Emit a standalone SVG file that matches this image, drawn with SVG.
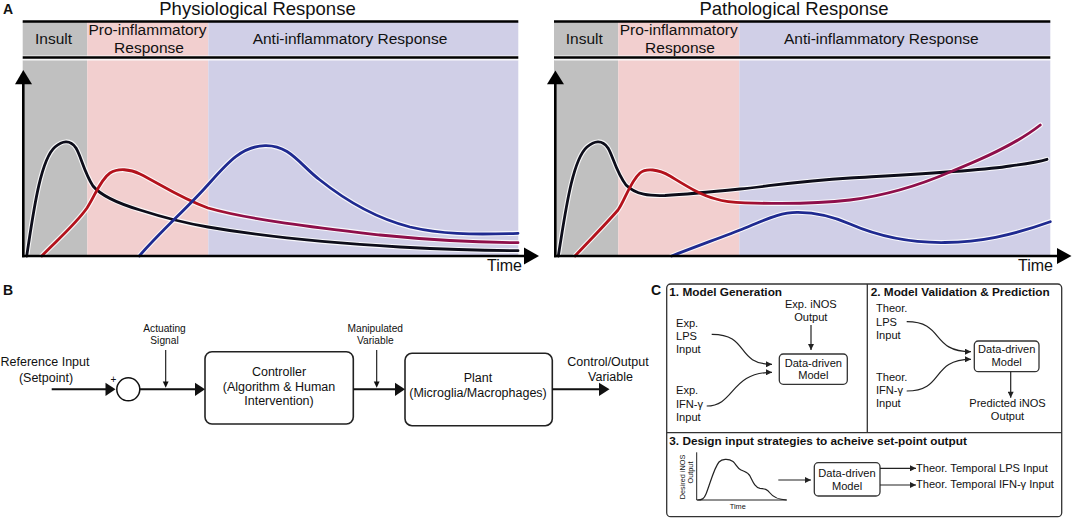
<svg xmlns="http://www.w3.org/2000/svg" width="1074" height="519" viewBox="0 0 1074 519">
<style>
text{font-family:"Liberation Sans",Arial,sans-serif;fill:#111}
.lbl{font-size:14px;font-weight:bold}
.ttl{font-size:18.5px;text-anchor:middle}
.hd{font-size:15.5px;text-anchor:middle}
.tm{font-size:16px;text-anchor:end}
.ax{stroke:#000;stroke-width:2.6;fill:none}
.hl{stroke:#000;stroke-width:2.6;fill:none}
.halo{stroke:#fff;stroke-width:5;fill:none;stroke-opacity:0.85;stroke-linecap:round}
.cv{fill:none;stroke-width:2.8;stroke-linecap:round}
.gr{fill:#c0c0c0}.pk{fill:#f2cfcf}.lv{fill:#d0cfe7}
.b12{font-size:12.5px;text-anchor:middle}
.b10{font-size:10.2px;text-anchor:middle}
.sig{stroke:#111;stroke-width:2;fill:none}
.thin{stroke:#111;stroke-width:1.1;fill:none}
.blk{fill:#111}
.box{fill:#fff;stroke:#222;stroke-width:1.6}
.cbox{fill:#fff;stroke:#333;stroke-width:1.3}
.cb{font-size:11.8px;font-weight:bold}
.c11{font-size:11.1px}
.cm{font-size:11.1px;text-anchor:middle}
.c7{font-size:7.3px;text-anchor:middle}
.ca{stroke:#222;stroke-width:1.2;fill:none}
</style>
<defs>
<marker id="ah" viewBox="0 0 10 10" refX="10" refY="5" markerWidth="7" markerHeight="6" markerUnits="userSpaceOnUse" orient="auto"><path d="M0,0 L10,5 L0,10 z" fill="#222"/></marker>
<marker id="sm" viewBox="0 0 10 10" refX="10" refY="5" markerWidth="6" markerHeight="5" markerUnits="userSpaceOnUse" orient="auto"><path d="M0,0 L10,5 L0,10 z" fill="#111"/></marker>
<linearGradient id="redL" gradientUnits="userSpaceOnUse" x1="200" y1="0" x2="245" y2="0"><stop offset="0" stop-color="#b3121c"/><stop offset="1" stop-color="#8e0f4a"/></linearGradient>
<linearGradient id="redR" gradientUnits="userSpaceOnUse" x1="731" y1="0" x2="776" y2="0"><stop offset="0" stop-color="#b3121c"/><stop offset="1" stop-color="#8e0f4a"/></linearGradient>
<path id="kL" d="M26.7,256 C33,215 40,160 55,147 C62,141 70,139 76,148 C81,156 84,172 93,186 C102,197 120,204 140,210 C165,218 190,224 208,227 C260,236 330,243 400,247 C450,249.5 490,250.5 518,250.7"/>
<path id="rL" d="M41.7,256 C55,242 75,225 87,208 C95,196 100,180 110,173 C118,168 130,169 140,174 C160,184 180,198 208,208 C250,220 320,228 380,235 C440,241 490,242.5 518,242.7"/>
<path id="uL" d="M139.3,256 C160,232 185,210 205,188 C225,166 240,146 265,145.7 C290,145 300,165 320,180 C345,200 375,218 410,227 C440,234 470,235 518,233.3"/>
<path id="kR" d="M558.3,256 C565,215 572,160 587,147 C594,141 602,139 608,148 C613,156 616,172 626,185 C636,195 650,196 665,195.5 C690,194 720,191 740,189 C770,186 800,181 850,178 C920,174 980,171 1010,166 C1025,164 1038,162 1047,159.3"/>
<path id="rR" d="M575,256 C590,240 605,225 618,210 C625,200 630,182 640,173 C646,168 658,169 670,176 C685,185 700,195 716,199 C725,202 733,202.5 745,202.8 C780,204 820,203.5 850,200 C890,195 920,185 950,172 C980,160 1015,145 1040.3,125"/>
<path id="uR" d="M671.7,256 C700,245 725,236 745,228 C765,220 780,212 798,212.3 C815,212.5 830,215 850,224 C880,237 910,243 945,242.5 C980,242 1010,236 1050.3,221.7"/>
</defs>
<rect width="1074" height="519" fill="#fff"/>

<g id="panelA-left">
<text class="lbl" x="3" y="14">A</text>
<text class="ttl" x="257.5" y="15">Physiological Response</text>
<rect class="gr" x="22.7" y="21.5" width="64.6" height="234.5"/>
<rect class="pk" x="87.3" y="21.5" width="121" height="234.5"/>
<rect class="lv" x="208.3" y="21.5" width="310" height="234.5"/>
<line class="halo" x1="23" y1="58" x2="518" y2="58" stroke-width="6"/>
<line class="hl" x1="22.7" y1="21.5" x2="518.3" y2="21.5"/>
<line class="hl" x1="22.7" y1="57.5" x2="518.3" y2="57.5"/>
<text class="hd" x="53.5" y="44">Insult</text>
<text class="hd" x="147.5" y="35">Pro-inflammatory</text>
<text class="hd" x="149" y="52.5">Response</text>
<text class="hd" x="350" y="44">Anti-inflammatory Response</text>
<use href="#kL" class="halo"/><use href="#rL" class="halo"/><use href="#uL" class="halo"/>
<use href="#kL" class="cv" stroke="#0d0d1a"/>
<use href="#rL" class="cv" stroke="url(#redL)"/>
<use href="#uL" class="cv" stroke="#1f2a90"/>
<line class="ax" x1="23.3" y1="82" x2="23.3" y2="257.3"/>
<polygon points="15,84.3 23.3,70 32,84.3" fill="#000"/>
<line class="ax" x1="22" y1="256" x2="526" y2="256"/>
<polygon points="524,247.5 539,256 524,264.5" fill="#000"/>
<text class="tm" x="522" y="271">Time</text>
</g>

<g id="panelA-right">
<text class="ttl" x="794" y="15">Pathological Response</text>
<rect class="gr" x="554" y="21.5" width="64.3" height="234.5"/>
<rect class="pk" x="618.3" y="21.5" width="121" height="234.5"/>
<rect class="lv" x="739.3" y="21.5" width="311" height="234.5"/>
<line class="halo" x1="555" y1="58" x2="1050" y2="58" stroke-width="6"/>
<line class="hl" x1="554" y1="21.5" x2="1050.3" y2="21.5"/>
<line class="hl" x1="554" y1="57.5" x2="1050.3" y2="57.5"/>
<text class="hd" x="584.3" y="44">Insult</text>
<text class="hd" x="678.7" y="35">Pro-inflammatory</text>
<text class="hd" x="680" y="52.5">Response</text>
<text class="hd" x="881.3" y="44">Anti-inflammatory Response</text>
<use href="#kR" class="halo"/><use href="#rR" class="halo"/><use href="#uR" class="halo"/>
<use href="#kR" class="cv" stroke="#0d0d1a"/>
<use href="#rR" class="cv" stroke="url(#redR)"/>
<use href="#uR" class="cv" stroke="#1f2a90"/>
<line class="ax" x1="555.3" y1="82" x2="555.3" y2="257.3"/>
<polygon points="547,84.3 555.4,70.5 564,84.3" fill="#000"/>
<line class="ax" x1="554" y1="256" x2="1058" y2="256"/>
<polygon points="1057,248 1071.5,256 1057,264" fill="#000"/>
<text class="tm" x="1053" y="271">Time</text>
</g>

<g id="panelB">
<text class="lbl" x="3" y="295">B</text>
<g id="ref-input"><text class="b12" x="45" y="365.7">Reference Input</text><text class="b12" x="46" y="381.5">(Setpoint)</text></g>
<g id="summing"><circle cx="128.3" cy="389.3" r="11.5" fill="#fff" stroke="#111" stroke-width="1.5"/><text x="113.3" y="383" style="font-size:10px;text-anchor:middle">+</text></g>
<g id="actuating-label"><text class="b10" x="164.5" y="332.3">Actuating</text><text class="b10" x="164.5" y="344.3">Signal</text></g>
<g id="controller"><rect class="box" x="205" y="351.7" width="148.3" height="72.3" rx="7"/>
<text class="b12" x="279" y="376">Controller</text><text class="b12" x="279" y="390.7">(Algorithm &amp; Human</text><text class="b12" x="279" y="405.3">Intervention)</text></g>
<g id="manipulated-label"><text class="b10" x="375.3" y="332.3">Manipulated</text><text class="b10" x="375.3" y="344.3">Variable</text></g>
<g id="plant"><rect class="box" x="405" y="353.3" width="147.3" height="72.4" rx="7"/>
<text class="b12" x="478" y="382.3">Plant</text><text class="b12" x="478" y="396.8">(Microglia/Macrophages)</text></g>
<g id="output-label"><text class="b12" x="608" y="365.7">Control/Output</text><text class="b12" x="610.5" y="381">Variable</text></g>
<g id="connectorsB">
<line class="sig" x1="51.7" y1="389.3" x2="107" y2="389.3"/><polygon class="blk" points="105.5,382.7 115.5,389.3 105.5,396"/>
<line class="sig" x1="139.8" y1="389.3" x2="196" y2="389.3"/><polygon class="blk" points="195,382.7 205,389.3 195,396"/>
<line class="sig" x1="353.3" y1="389.3" x2="396" y2="389.3"/><polygon class="blk" points="395,382.7 405,389.3 395,396"/>
<line class="sig" x1="552.3" y1="389.3" x2="600" y2="389.3"/><polygon class="blk" points="599,382.7 609.5,389.3 599,396"/>
<line class="thin" x1="165.7" y1="350" x2="165.7" y2="382"/><polygon class="blk" points="162.8,381.5 165.7,387.8 168.6,381.5"/>
<line class="thin" x1="376.7" y1="350" x2="376.7" y2="382"/><polygon class="blk" points="373.8,381.5 376.7,387.8 379.6,381.5"/>
</g>
</g>

<g id="panelC">
<text class="lbl" x="651" y="294.5">C</text>
<rect x="666.7" y="284" width="395" height="232.7" rx="4" fill="none" stroke="#333" stroke-width="1.3"/>
<line x1="867.3" y1="284" x2="867.3" y2="432.7" stroke="#333" stroke-width="1.3"/>
<line x1="666.7" y1="432.7" x2="1061.7" y2="432.7" stroke="#333" stroke-width="1.3"/>
<g id="sec1">
<text class="cb" x="669.3" y="295.7">1. Model Generation</text>
<g id="exp-lps"><text class="c11" x="676" y="327">Exp.</text><text class="c11" x="676" y="340">LPS</text><text class="c11" x="676" y="353">Input</text></g>
<g id="exp-ifn"><text class="c11" x="676" y="394.3">Exp.</text><text class="c11" x="676" y="407.5">IFN-γ</text><text class="c11" x="676" y="420.7">Input</text></g>
<g id="exp-inos"><text class="cm" x="810.8" y="308.3">Exp. iNOS</text><text class="cm" x="810.8" y="321">Output</text></g>
<g id="model1"><rect class="cbox" x="779.3" y="354" width="68" height="30.3" rx="4"/><text class="cm" x="813.3" y="366.7">Data-driven</text><text class="cm" x="813.3" y="379.3">Model</text></g>
</g>
<g id="sec2">
<text class="cb" x="870.7" y="295.7">2. Model Validation &amp; Prediction</text>
<g id="th-lps"><text class="c11" x="876" y="312">Theor.</text><text class="c11" x="876" y="325.5">LPS</text><text class="c11" x="876" y="339">Input</text></g>
<g id="th-ifn"><text class="c11" x="876" y="381">Theor.</text><text class="c11" x="876" y="393.8">IFN-γ</text><text class="c11" x="876" y="406.7">Input</text></g>
<g id="model2"><rect class="cbox" x="974.3" y="341" width="64.7" height="30.7" rx="4"/><text class="cm" x="1006.7" y="353.3">Data-driven</text><text class="cm" x="1006.7" y="366">Model</text></g>
<g id="pred"><text class="cm" x="1007.5" y="406.7">Predicted iNOS</text><text class="cm" x="1007.5" y="420">Output</text></g>
</g>
<g id="sec3">
<text class="cb" x="669.3" y="445">3. Design input strategies to acheive set-point output</text>
<g id="chart">
<line x1="696.7" y1="452.3" x2="696.7" y2="500" stroke="#222" stroke-width="1"/>
<line x1="696.7" y1="500" x2="786.7" y2="500" stroke="#222" stroke-width="1"/>
<path d="M697.3,500 C702,500 704,499 706,494 C710,484 714,468 719,462 C722,459 728,458 733,461.5 C736,464 737,468 741,470 C745,472 748,472 750,476 C753,482 755,487.5 760,488.3 C765,488.8 767,489 770,493 C773,497 777,499.5 786.7,500" fill="none" stroke="#222" stroke-width="1.2"/>
<text class="c7" transform="translate(684.5,477) rotate(-90)">Desired iNOS</text>
<text class="c7" transform="translate(692.8,472.5) rotate(-90)">Output</text>
<text class="c7" x="737.8" y="509.3">Time</text>
</g>
<g id="model3"><rect class="cbox" x="814.3" y="462.7" width="65.7" height="33.3" rx="4"/><text class="cm" x="847" y="476.7">Data-driven</text><text class="cm" x="847" y="490">Model</text></g>
<g id="out-lps"><text class="c11" x="916" y="471.7">Theor. Temporal LPS Input</text></g>
<g id="out-ifn"><text class="c11" x="916" y="488.3">Theor. Temporal IFN-γ Input</text></g>
</g>
<g id="connectorsC">
<path class="ca" d="M711.7,334.3 C750,334 735,364.3 772,364.3" marker-end="url(#ah)"/>
<path class="ca" d="M706.7,406 C735,406 730,372.3 772,372.3" marker-end="url(#ah)"/>
<path class="ca" d="M811,325 V350" marker-end="url(#ah)"/>
<path class="ca" d="M906.7,321.7 C945,321.7 930,351.7 971,351.7" marker-end="url(#ah)"/>
<path class="ca" d="M906.7,391 C945,391 930,359.3 971,359.3" marker-end="url(#ah)"/>
<path class="ca" d="M1010.7,371.7 V397.7" marker-end="url(#ah)"/>
<path class="ca" d="M778.3,480 H811" marker-end="url(#ah)"/>
<path class="ca" d="M880,468.3 H916" marker-end="url(#ah)"/>
<path class="ca" d="M880,485 H916" marker-end="url(#ah)"/>
</g>
</g>
</svg>
